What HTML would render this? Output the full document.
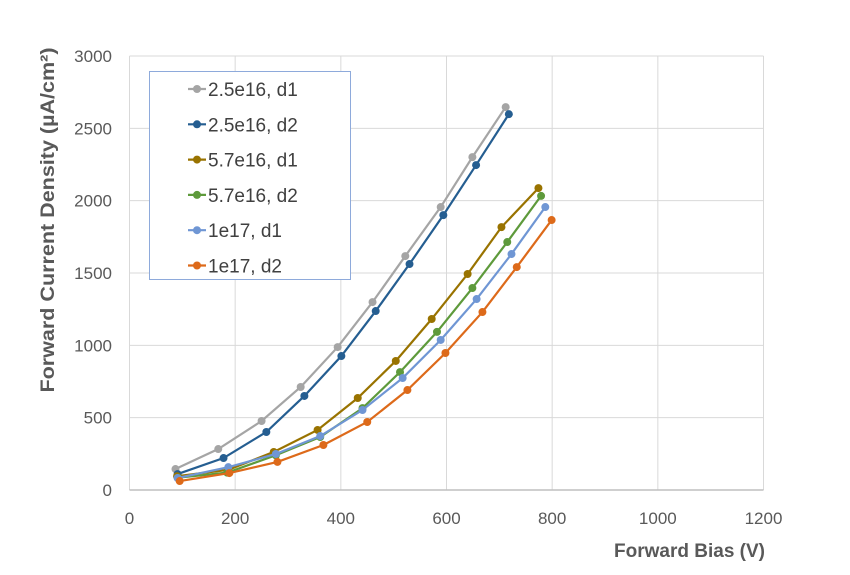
<!DOCTYPE html>
<html><head><meta charset="utf-8"><style>
body{margin:0;background:#fff;}
svg text{font-family:"Liberation Sans",sans-serif;}
</style></head><body>
<svg id="chart" width="850" height="570" xmlns="http://www.w3.org/2000/svg">
<g id="grid"></g>
<g id="axes"></g>
<g id="series"></g>
<text transform="translate(54,220) rotate(-90)" text-anchor="middle" font-size="19" font-weight="bold" fill="#595959" textLength="345" lengthAdjust="spacingAndGlyphs">Forward Current Density (µA/cm²)</text>
<text x="765" y="557" text-anchor="end" font-size="19" font-weight="bold" fill="#595959">Forward Bias (V)</text>
<g id="legend">
<rect x="149.5" y="71.5" width="201" height="208" fill="#fff" stroke="#8eaadb" stroke-width="1"/>
</g>
</svg>
<script>
const xTicks=[0,200,400,600,800,1000,1200];
const yTicks=[0,500,1000,1500,2000,2500,3000];
const seriesNames=["2.5e16, d1","2.5e16, d2","5.7e16, d1","5.7e16, d2","1e17, d1","1e17, d2"];
const seriesColors=["#a5a5a5","#255e91","#997300","#5e9a3b","#6f96d4","#dd6a1a"];
const x_s1=[87,168,250,324,394,460,522,589,649,712];
const y_s1=[145,283,477,712,988,1299,1617,1956,2301,2647];
const x_s2=[91,178,259,331,401,466,530,594,656,718];
const y_s2=[110,221,401,650,926,1237,1562,1900,2246,2598];
const x_s3=[90,187,273,356,432,504,572,640,704,774];
const y_s3=[95,140,263,415,636,892,1182,1493,1817,2087];
const x_s4=[92,185,277,361,441,512,582,649,715,779];
const y_s4=[85,120,240,366,566,815,1093,1396,1714,2033];
const x_s5=[91,187,277,361,441,517,589,657,723,787];
const y_s5=[83,158,249,373,553,774,1037,1320,1631,1956];
const x_s6=[95,189,280,367,450,526,598,668,733,799];
const y_s6=[62,117,194,311,470,691,947,1230,1541,1866];
const seriesX=[x_s1,x_s2,x_s3,x_s4,x_s5,x_s6];
const seriesY=[y_s1,y_s2,y_s3,y_s4,y_s5,y_s6];

const X0=129.5,X1=763.5,Y0=490,Y1=56;
function sx(v){return X0+(v-0)/(1200-0)*(X1-X0);}
function sy(v){return Y0-(v-0)/(3000-0)*(Y0-Y1);}
const NS="http://www.w3.org/2000/svg";
function mk(tag,attrs,parent){const e=document.createElementNS(NS,tag);for(const k in attrs)e.setAttribute(k,attrs[k]);parent.appendChild(e);return e;}
const grid=document.getElementById('grid'),axes=document.getElementById('axes'),ser=document.getElementById('series'),leg=document.getElementById('legend');
xTicks.forEach(t=>{
  if(t>0){const l=mk('line',{x1:sx(t),x2:sx(t),y1:Y1,y2:Y0,stroke:'#d9d9d9','stroke-width':1},grid);
  
  }
  const tx=mk('text',{x:sx(t),y:524,'text-anchor':'middle','font-size':17,fill:'#595959'},axes);
  tx.textContent=t;
  
  
});
yTicks.forEach(t=>{
  if(t>0){const l=mk('line',{x1:X0,x2:X1,y1:sy(t),y2:sy(t),stroke:'#d9d9d9','stroke-width':1},grid);
  
  }
  const tx=mk('text',{x:112,y:sy(t)+6,'text-anchor':'end','font-size':17,fill:'#595959'},axes);
  tx.textContent=t;
  
  
});
const lv=mk('line',{x1:X0,x2:X0,y1:Y1,y2:Y0,stroke:'#d9d9d9','stroke-width':1},axes);


const lh=mk('line',{x1:X0,x2:X1,y1:Y0,y2:Y0,stroke:'#bfbfbf','stroke-width':1.5},axes);


seriesNames.forEach((n,i)=>{
  const g=mk('g',{},ser);
  
  
  const pts=seriesX[i].map((x,j)=>sx(x)+','+sy(seriesY[i][j])).join(' ');
  const pl=mk('polyline',{points:pts,fill:'none',stroke:seriesColors[i],'stroke-width':2.2},g);
  
  
  seriesX[i].forEach((x,j)=>{
    const c=mk('circle',{cx:sx(x),cy:sy(seriesY[i][j]),r:4,fill:seriesColors[i]},g);
    
    
  });
  const ly=89+i*35.3;
  const le=mk('g',{},leg);
  
  
  mk('line',{x1:188,x2:206,y1:ly,y2:ly,stroke:seriesColors[i],'stroke-width':2.2},le);
  mk('circle',{cx:197,cy:ly,r:4,fill:seriesColors[i]},le);
  const t=mk('text',{x:208,y:ly+7,'font-size':19,fill:'#404040'},le);
  t.textContent=n;
});
</script>
</body></html>
